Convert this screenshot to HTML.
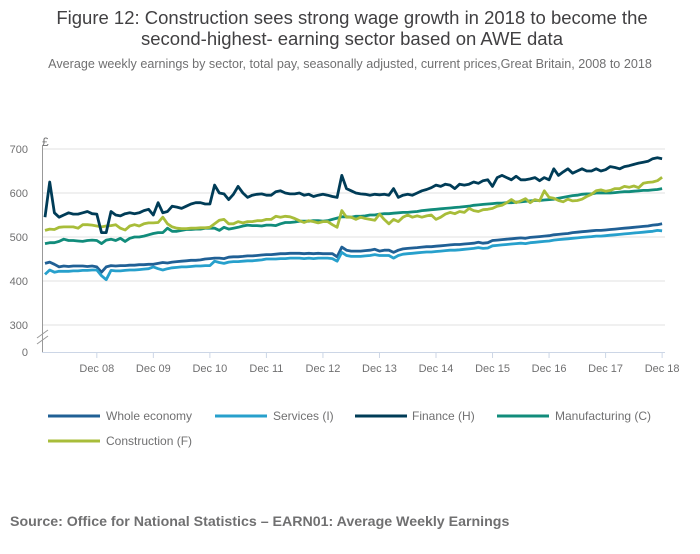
<!DOCTYPE html>
<html><head><meta charset="utf-8"><style>
body{margin:0;background:#fff;width:700px;height:549px;overflow:hidden;font-family:"Liberation Sans",sans-serif}
svg text{font-family:"Liberation Sans",sans-serif}
</style></head><body>
<svg id="chart" width="700" height="549" xmlns="http://www.w3.org/2000/svg">
<text x="352" y="24" text-anchor="middle" font-size="18.5" fill="#414042">Figure 12: Construction sees strong wage growth in 2018 to become the</text>
<text x="352" y="45" text-anchor="middle" font-size="18.5" fill="#414042">second-highest- earning sector based on AWE data</text>
<text x="350" y="68" text-anchor="middle" font-size="12.6" fill="#707071">Average weekly earnings by sector, total pay, seasonally adjusted, current prices,Great Britain, 2008 to 2018</text>
<text x="42" y="146" font-size="12" fill="#707071">£</text>
<g id="grid"></g><g id="series"></g>
<text x="10" y="526" font-size="14.2" font-weight="bold" fill="#707071">Source: Office for National Statistics – EARN01: Average Weekly Earnings</text>
</svg>
<script>
const yTicks=[300,400,500,600,700];
const xTickLabels=["Dec 08","Dec 09","Dec 10","Dec 11","Dec 12","Dec 13","Dec 14","Dec 15","Dec 16","Dec 17","Dec 18"];
const seriesNames=["Whole economy","Services (I)","Finance (H)","Manufacturing (C)","Construction (F)"];
const whole=[440,443,438,432,434,433,434,434,434,433,434,432,420,432,435,434,435,435,436,436,437,437,438,438,440,442,441,443,444,445,446,447,447,448,450,451,452,452,451,454,455,455,456,457,457,458,459,460,460,461,462,462,463,463,463,462,463,462,463,462,462,462,455,477,470,468,468,468,469,470,472,468,470,470,465,470,473,474,475,476,477,478,478,479,480,481,482,483,483,484,485,486,488,486,487,492,493,494,495,496,497,498,497,499,500,501,502,503,505,506,507,508,510,511,512,513,514,515,515,516,517,518,519,520,521,522,523,524,525,527,528,530];
const services=[415,425,420,422,422,422,423,423,424,424,425,425,412,403,424,423,423,424,425,425,426,427,428,432,428,425,428,430,431,432,432,433,434,434,435,435,445,442,440,443,444,444,445,446,446,447,448,450,450,450,451,451,452,452,452,451,452,451,452,452,452,451,445,465,458,456,456,456,457,458,460,458,458,458,452,458,461,462,463,464,465,466,466,467,468,469,470,470,471,472,473,474,476,474,475,480,481,482,483,484,485,486,485,487,488,489,490,491,493,494,495,496,497,498,499,500,501,502,502,503,504,505,506,507,508,509,510,511,512,513,515,514];
const finance=[545,625,555,545,550,555,552,552,555,558,553,552,510,510,558,550,548,553,555,553,555,560,563,550,578,555,558,570,568,565,570,575,578,578,575,575,618,600,598,585,597,615,600,590,595,597,598,595,595,603,605,600,598,598,600,595,597,592,595,597,595,592,590,640,610,605,600,598,597,595,597,596,597,595,610,590,595,597,595,600,605,608,612,618,615,620,618,610,620,618,620,625,622,628,630,615,635,640,635,630,638,630,630,632,635,628,635,630,655,640,648,655,645,650,655,650,650,655,650,653,660,658,655,660,662,665,668,670,672,678,680,678];
const manufacturing=[485,487,487,490,495,492,492,491,490,492,493,492,485,493,495,492,497,490,497,500,500,502,505,508,510,510,520,513,513,515,517,517,518,518,520,520,520,515,522,518,520,522,525,527,526,526,525,527,527,526,530,533,533,534,536,536,536,537,537,536,537,540,543,546,546,545,547,547,548,550,550,552,553,553,554,555,556,556,557,558,560,561,562,563,564,565,566,567,568,569,570,572,573,574,575,576,577,577,578,578,579,580,581,582,583,583,584,585,586,588,590,592,594,595,597,598,598,600,600,600,600,601,602,603,603,604,605,606,606,607,608,610];
const construction=[515,518,517,522,523,523,523,520,528,528,527,525,523,525,526,528,520,516,525,528,525,530,532,532,533,545,530,523,520,519,519,520,520,521,521,522,530,538,540,530,530,535,532,535,535,537,537,540,540,547,545,547,546,542,537,533,537,535,532,535,535,528,522,560,545,545,540,545,542,540,538,552,540,530,540,535,545,550,545,548,545,548,550,540,545,552,556,553,558,556,565,560,558,562,563,565,570,572,578,585,578,582,587,578,585,582,605,590,588,583,580,586,582,583,586,592,597,605,607,604,606,610,610,615,613,616,612,622,624,625,628,636];
const colors=["#206095","#27a0cc","#003c57","#118c7b","#a8bd3a"];
const NS="http://www.w3.org/2000/svg";
const x0=45, monthW=(662-96.7)/120;
function xScale(i){return x0+i*monthW;}
function yScale(v){return 149+(700-v)*0.44;}
const grid=document.getElementById('grid'), ser=document.getElementById('series');
function mk(tag,attrs,parent){const e=document.createElementNS(NS,tag);for(const k in attrs)e.setAttribute(k,attrs[k]);parent.appendChild(e);return e;}
yTicks.forEach(v=>{
  const l=mk('line',{x1:42,x2:665,y1:yScale(v),y2:yScale(v),stroke:'#e0e0e0','stroke-width':1},grid);
  
  
  const t=mk('text',{x:28,y:yScale(v)+4,'text-anchor':'end','font-size':11,fill:'#707071'},grid);
  t.textContent=v;
  
  
});
const z=mk('text',{x:28,y:356,'text-anchor':'end','font-size':11,fill:'#707071'},grid);z.textContent='0';


const ya=mk('line',{x1:42.5,x2:42.5,y1:145,y2:352,stroke:'#999','stroke-width':1},grid);


const br=mk('path',{d:'M37,338 L48,330 M37,344 L48,336',stroke:'#999','stroke-width':1,fill:'none'},grid);


const xa=mk('line',{x1:42,x2:665,y1:352.5,y2:352.5,stroke:'#ccd6e6','stroke-width':1},grid);


xTickLabels.forEach((lab,k)=>{
  const x=xScale(11+12*k);
  const tk=mk('line',{x1:x,x2:x,y1:352,y2:358,stroke:'#ccd6e6'},grid);
  
  
  const t=mk('text',{x:x,y:372,'text-anchor':'middle','font-size':11,fill:'#707071'},grid);
  t.textContent=lab;
  
  
});
const all=[whole,services,finance,manufacturing,construction];
const order=[0,1,3,4,2];
order.forEach(s=>{
  const d=all[s].map((v,i)=>(i?'L':'M')+xScale(i).toFixed(1)+','+yScale(v).toFixed(1)).join(' ');
  const p=mk('path',{d:d,fill:'none',stroke:colors[s],'stroke-width':2.8,'stroke-linejoin':'round'},ser);
  
  
});
const legPos=[[48,416,106],[215,416,273],[355,416,412],[497,416,555],[48,441,106]];
legPos.forEach((p,s)=>{
  const g=mk('g',{},ser);
  
  
  mk('line',{x1:p[0],x2:p[0]+52,y1:p[1],y2:p[1],stroke:colors[s],'stroke-width':3},g);
  const t=mk('text',{x:p[2],y:p[1]+4,'font-size':12,fill:'#707071'},g);
  t.textContent=seriesNames[s];
});
</script>
</body></html>
